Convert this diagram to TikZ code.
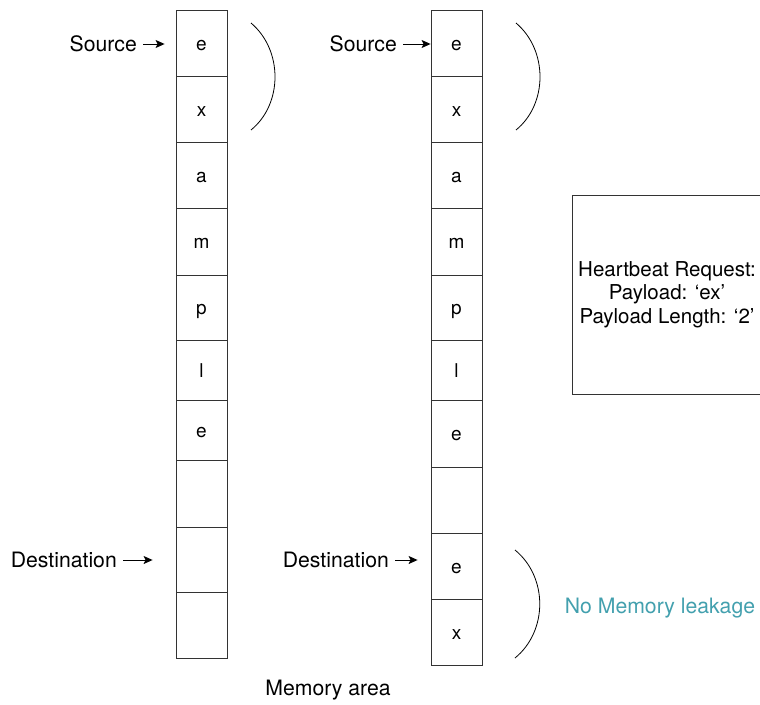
\documentclass[tikz,border=0pt]{standalone}
\usepackage{fontspec}
\setmainfont{TeX Gyre Heros}
\usetikzlibrary{calc, positioning, arrows.meta}
\definecolor{leakteal}{RGB}{67,160,174}
\tikzset{
  font=\fontsize{21.2}{24}\selectfont,
  % Set arrowhead
  >={Stealth[length=9pt, width=8pt, inset=2pt]},
  % Memory cell
  cell/.style={draw=black!80, line width=0.8pt, minimum width=51pt,
    inner sep=0pt, text height=2.9ex, text depth=0.2ex,
    font=\fontsize{19}{23}\selectfont},
  % Pointer label
  lbl/.style={inner sep=0pt},
  % Pointer arrow
  ptr/.style={->, line width=1pt, shorten <=6pt},
  % Bracket over copied bytes
  brk/.style={line width=0.8pt},
  % Request box
  reqbox/.style={draw=black!80, line width=0.8pt, minimum width=190pt,
    minimum height=199pt, align=center, font=\fontsize{20.5}{23.5}\selectfont},
}

\begin{document}
\begin{tikzpicture}[x=1pt, y=-1pt]
  \useasboundingbox (0,0) rectangle (760,704);

  % Memory before the copy
  \foreach \t/\b/\c [count=\i] in {10/76/e, 76/142/x, 142/208/a, 208/275/m,
      275/340/p, 340/400/l, 400/460/e, 460/527/{}, 527/592/{}, 592/658/{}}
    \node[cell, minimum height=(\b-\t)*1pt] (l\i) at (201.5, {(\t+\b)/2}) {\c};

  % Memory after the copy
  \foreach \t/\b/\c [count=\i] in {10/76/e, 76/142/x, 142/208/a, 208/275/m,
      275/340/p, 340/400/l, 400/467/e, 467/533/{}, 533/599/e, 599/665/x}
    \node[cell, minimum height=(\b-\t)*1pt] (r\i) at (456.5, {(\t+\b)/2}) {\c};

  % Pointers
  \node[lbl, anchor=east] (src1) at (137,44) {Source};
  \node[lbl, anchor=east] (dst1) at (117,560) {Destination};
  \node[lbl, anchor=east] (src2) at (397,44) {Source};
  \node[lbl, anchor=east] (dst2) at (389,560) {Destination};

  \draw[ptr, shorten >=11pt] (src1) -- (src1 -| l1.west);
  \draw[ptr, shorten >=23pt] (dst1) -- (dst1 -| l9.west);
  \draw[ptr] (src2) -- (src2 -| r1.west);
  \draw[ptr, shorten >=13pt] (dst2) -- (dst2 -| r9.west);

  % Brackets
  \draw[brk] (251,23) .. controls (283,50) and (283,104) .. (251,130);
  \draw[brk] (516,23) .. controls (548,50) and (548,104) .. (516,130);
  \draw[brk] (515,550) .. controls (548,577) and (548,631) .. (515,658);

  \node[reqbox] (req) at (667,294.5)
    {Heartbeat Request:\\ Payload: `ex'\\ Payload Length: `2'};
  \node[text=leakteal] (leak) at (660,608) {No Memory leakage};
  \node (area) at (328,690) {Memory area};
\end{tikzpicture}
\end{document}
